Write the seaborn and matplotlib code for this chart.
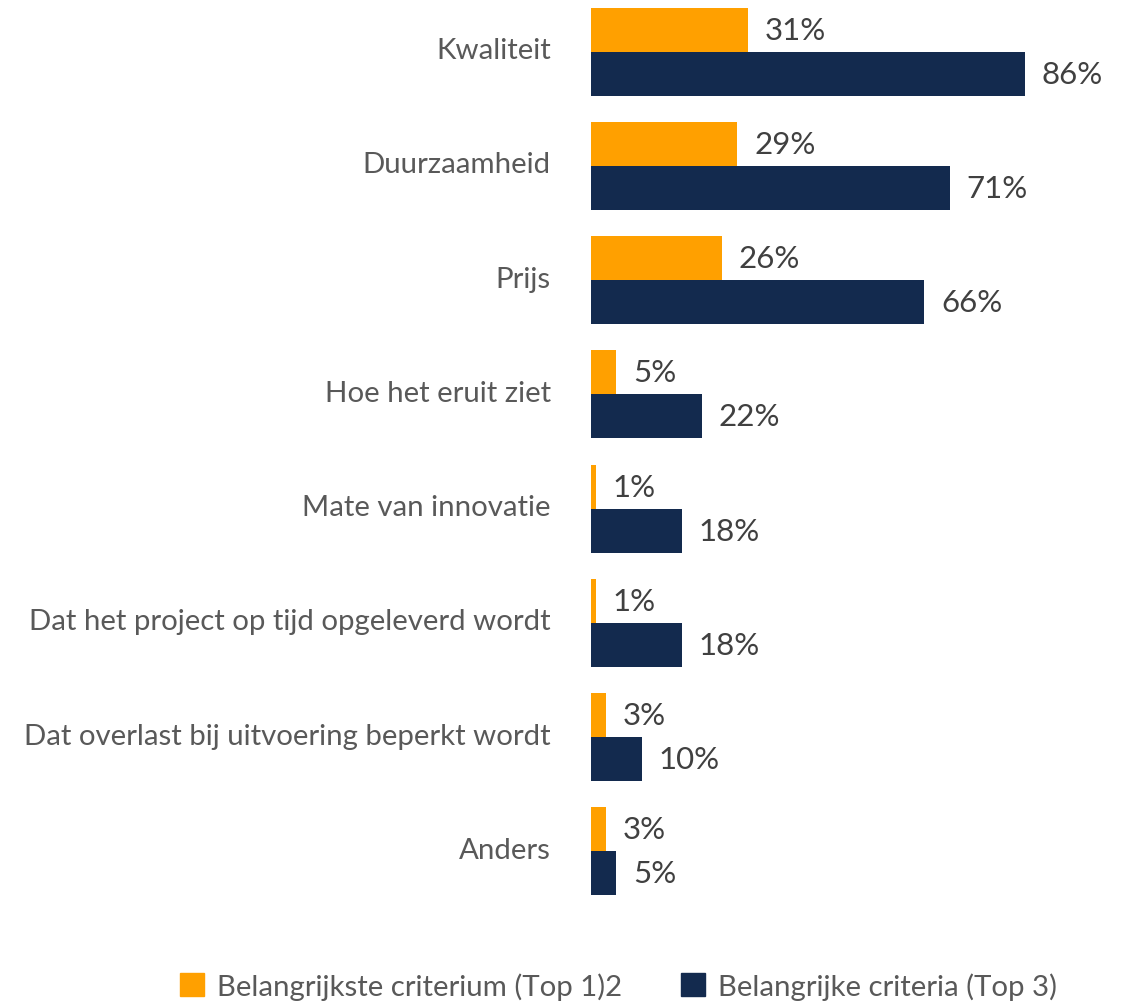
import seaborn as sns
import pandas as pd
import matplotlib.pyplot as plt
import matplotlib.transforms as mtransforms
from matplotlib.patches import Patch

categories = ["Kwaliteit", "Duurzaamheid", "Prijs", "Hoe het eruit ziet",
              "Mate van innovatie", "Dat het project op tijd opgeleverd wordt",
              "Dat overlast bij uitvoering beperkt wordt", "Anders"]
top1 = [31, 29, 26, 5, 1, 1, 3, 3]
top3 = [86, 71, 66, 22, 18, 18, 10, 5]
series = ["Belangrijkste criterium (Top 1)2", "Belangrijke criteria (Top 3)"]
colors = ["#FFA000", "#132A4E"]

sns.set_style("white")
plt.rcParams['font.family'] = ['Lato', 'DejaVu Sans']
text_color = "#595959"

df = pd.DataFrame({
    "Criterium": categories * 2,
    "Waarde": top1 + top3,
    "Reeks": [series[0]] * len(categories) + [series[1]] * len(categories),
})

fig = plt.figure(figsize=(11.35, 10.03), dpi=100)
ax = fig.add_axes([591 / 1135, 98 / 1003, 505 / 1135, 905 / 1003])

sns.barplot(data=df, y="Criterium", x="Waarde", hue="Reeks", orient="h",
            palette=colors, width=0.77, ax=ax, legend=False, saturation=1,
            linewidth=0)

for cont in ax.containers:
    ax.bar_label(cont, labels=[f"{v:.0f}%" for v in cont.datavalues],
                 padding=12, fontsize=22.5, color="#404040")

ax.set_xlim(0, 100)
ax.set_ylim(7.46, -0.46)
ax.set_xlabel("")
ax.set_ylabel("")
ax.set_xticks([])
ax.tick_params(axis="y", length=0, pad=29, labelsize=21.2, labelcolor=text_color)
# nudge category labels up slightly
shift = mtransforms.ScaledTranslation(0, 4 / 100, fig.dpi_scale_trans)
for lbl in ax.get_yticklabels():
    lbl.set_transform(lbl.get_transform() + shift)
sns.despine(ax=ax, left=True, bottom=True)

handles = [Patch(color=c, label=s) for c, s in zip(colors, series)]
fig.legend(handles=handles, loc="center", bbox_to_anchor=(0.545, 0.016),
           ncol=2, frameon=False, fontsize=21.2, labelcolor=text_color,
           handlelength=0.8, handleheight=0.8, handletextpad=0.45,
           columnspacing=2.0)

plt.savefig("out.png", dpi=100)
